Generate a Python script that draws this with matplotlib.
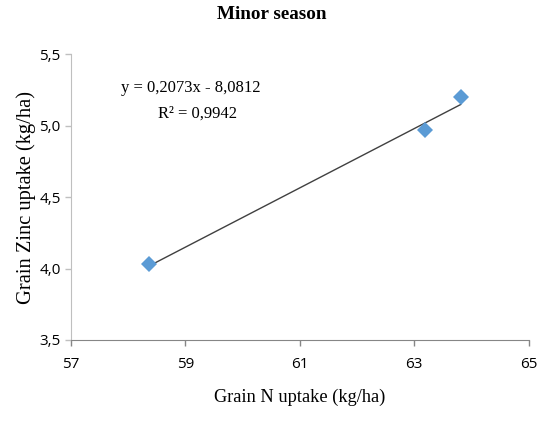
import matplotlib
matplotlib.use("Agg")
import matplotlib.pyplot as plt
import numpy as np

# Data
n_uptake = [58.37, 63.19, 63.81]
zn_uptake = [4.03, 4.97, 5.20]
slope = 0.2073
intercept = -8.0812
r2 = 0.9942
x_ticks = [57, 59, 61, 63, 65]
y_ticks = [3.5, 4.0, 4.5, 5.0, 5.5]

fig = plt.figure(figsize=(5.43, 4.21), dpi=100)
ax = fig.add_axes([0.1308, 0.1924, 0.9737 - 0.1308, 0.8717 - 0.1924])

xs = np.array([min(n_uptake), max(n_uptake)])
ax.plot(xs, slope * xs + intercept, color="#404040", lw=1.0, zorder=2)
ax.plot(n_uptake, zn_uptake, linestyle="none", marker="D", ms=8,
        color="#5B9BD5", markeredgewidth=0, zorder=3)

ax.set_xlim(57, 65)
ax.set_ylim(3.5, 5.5)
ax.set_xticks(x_ticks)
ax.set_yticks(y_ticks)
ax.set_xticklabels([str(v) for v in x_ticks])
ax.set_yticklabels([f"{v:.1f}".replace(".", ",") for v in y_ticks])

for s in ["top", "right"]:
    ax.spines[s].set_visible(False)
ax.spines["left"].set_color("#bfbfbf")
ax.spines["bottom"].set_color("#868686")
ax.tick_params(axis="y", colors="#bfbfbf", length=4, width=1, labelcolor="black",
               labelsize=11)
ax.tick_params(axis="x", colors="#868686", length=4, width=1, labelcolor="black",
               labelsize=11, pad=8)
for lab in ax.get_xticklabels() + ax.get_yticklabels():
    lab.set_family("Open Sans")

serif = "Liberation Serif"
fig.text(0.5, 0.965, "Minor season", ha="center", va="center",
         family=serif, fontweight="bold", fontsize=13.8)
ax.set_xlabel("Grain N uptake (kg/ha)", family=serif, fontsize=13.2, labelpad=12)
ax.set_ylabel("Grain Zinc uptake (kg/ha)", family=serif, fontsize=14.8, labelpad=2)

eq = f"y = {slope:.4f}x - {abs(intercept):.4f}".replace(".", ",")
r2t = f"R² = {r2:.4f}".replace(".", ",")
fig.text(191 / 543, 1 - 88 / 421, eq, ha="center", va="center",
         family=serif, fontsize=12)
fig.text(198 / 543, 1 - 114 / 421, r2t, ha="center", va="center",
         family=serif, fontsize=12)

fig.savefig("out.png", dpi=100)
